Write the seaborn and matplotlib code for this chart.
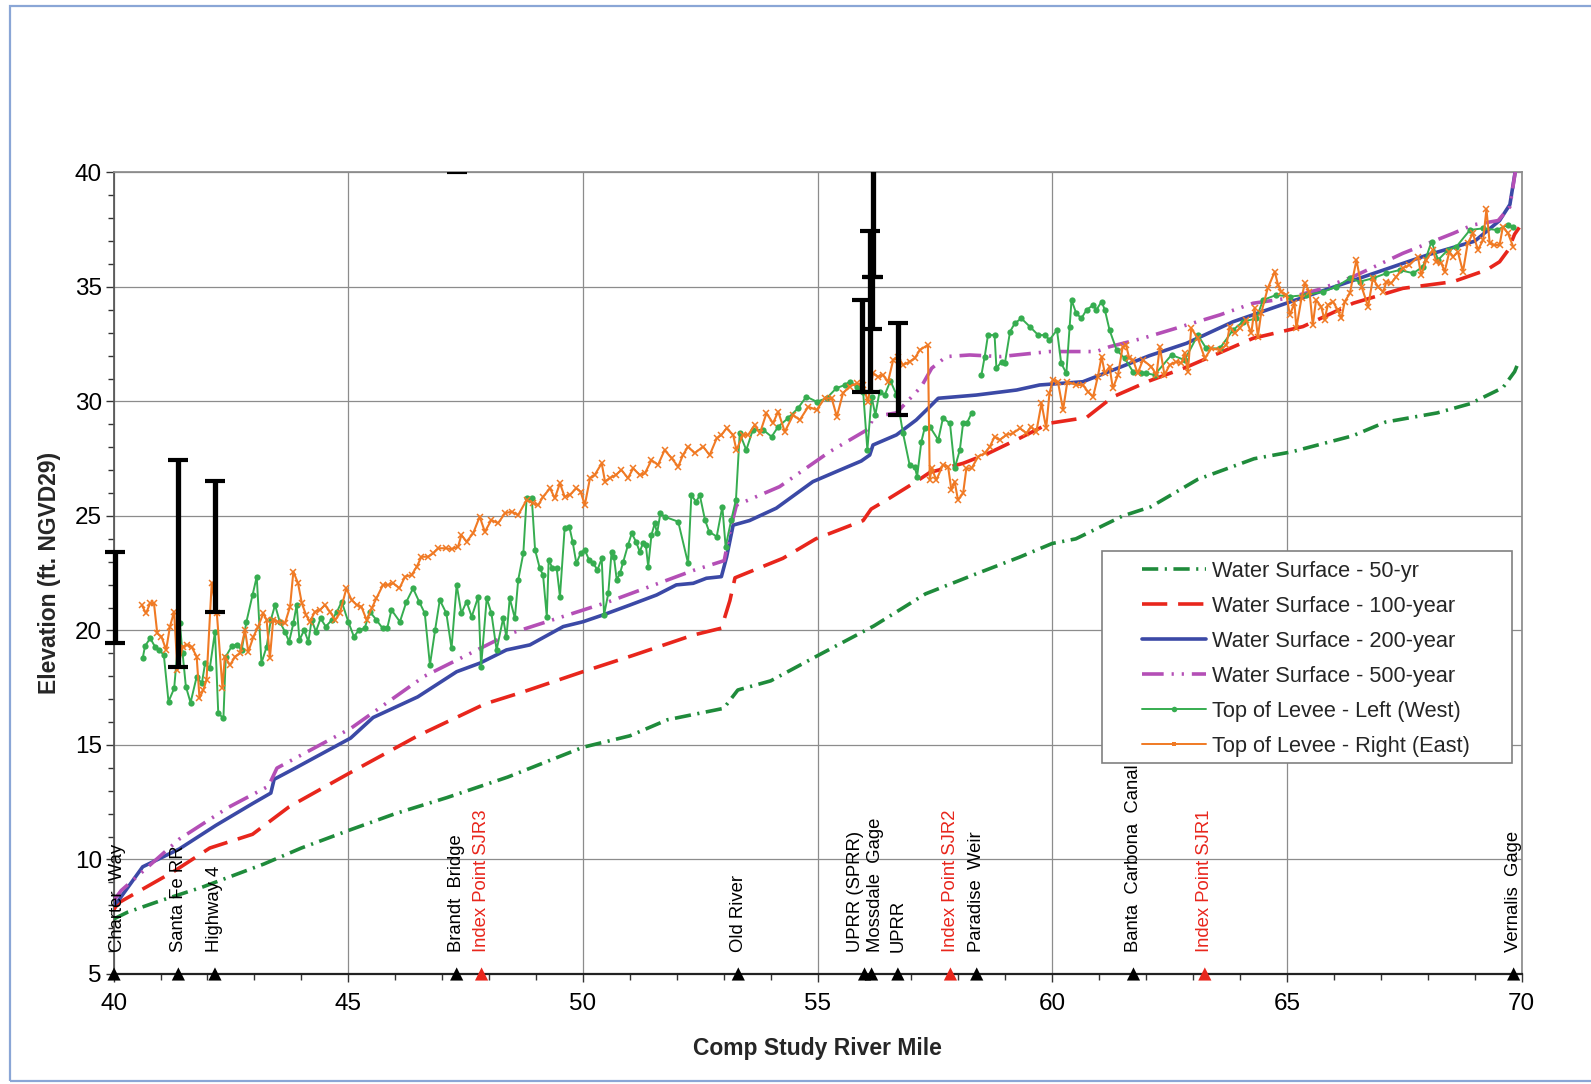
import numpy as np
import pandas as pd
import matplotlib
matplotlib.use('Agg')
import matplotlib.pyplot as plt
import seaborn as sns
from matplotlib.lines import Line2D
from matplotlib.patches import Rectangle
from matplotlib.ticker import MultipleLocator

sns.set_theme(style='white')
plt.rcParams['font.family'] = ['Liberation Sans', 'DejaVu Sans']

# --- water surface profiles ---
ws50_x = [40.0, 40.3, 41.0, 41.9, 43.2, 44.0, 45.05, 46.0, 47.1, 48.4, 50.0, 51.0, 51.8, 53.0, 53.3,
          54.0, 55.0, 56.2, 57.3, 58.35, 59.3, 60.0, 60.5, 61.5, 62.1, 63.1, 64.3, 65.1, 66.4, 67.1,
          68.2, 68.9, 69.6, 69.85, 69.95]
ws50 = [7.4, 7.7, 8.2, 8.8, 9.8, 10.5, 11.3, 12.0, 12.7, 13.6, 14.9, 15.4, 16.1, 16.6, 17.4,
        17.8, 18.9, 20.2, 21.6, 22.45, 23.2, 23.8, 24.0, 25.0, 25.4, 26.6, 27.5, 27.8, 28.5, 29.1,
        29.5, 29.9, 30.6, 31.3, 31.8]

ws100_x = [40.0, 40.1, 41.3, 42.05, 42.96, 43.74, 45.05, 46.48, 47.92, 48.7, 50.0, 51.05, 52.35,
           52.95, 53.13, 53.24, 54.26, 54.96, 55.97, 56.14, 56.47, 57.1, 57.39, 58.1, 58.6, 59.31,
           59.94, 60.73, 61.29, 62.07, 62.86, 64.28, 65.34, 66.41, 67.47, 68.54, 69.25, 69.53,
           69.71, 69.85, 69.95]
ws100 = [7.8, 8.1, 9.5, 10.5, 11.1, 12.3, 13.8, 15.4, 16.8, 17.3, 18.2, 18.9, 19.8,
         20.1, 21.3, 22.3, 23.15, 24.0, 24.8, 25.3, 25.7, 26.5, 26.9, 27.3, 27.7, 28.4,
         29.05, 29.3, 30.2, 30.9, 31.5, 32.76, 33.27, 34.29, 34.94, 35.23, 35.74, 36.1,
         36.6, 37.3, 37.6]

ws200_x = [40.0, 40.1, 40.62, 41.4, 42.18, 42.96, 43.35, 43.42, 43.88, 45.05, 45.53, 46.48, 47.31,
           47.8, 48.37, 48.87, 49.58, 50.0, 50.43, 51.0, 51.57, 51.99, 52.35, 52.63, 52.95, 53.06,
           53.2, 53.55, 54.12, 54.9, 55.47, 55.93, 56.11, 56.18, 56.68, 57.1, 57.39, 57.57, 58.38,
           59.24, 59.73, 60.65, 61.29, 62.07, 62.86, 63.85, 65.0, 66.0, 67.0, 68.0, 69.0, 69.53,
           69.75, 69.9]
ws200 = [8.0, 8.2, 9.68, 10.46, 11.49, 12.44, 12.9, 13.5, 14.0, 15.3, 16.2, 17.1, 18.2,
         18.57, 19.15, 19.37, 20.17, 20.38, 20.68, 21.11, 21.55, 21.99, 22.06, 22.28, 22.35, 23.2,
         24.6, 24.8, 25.34, 26.5, 27.0, 27.4, 27.66, 28.1, 28.54, 29.19, 29.77, 30.14, 30.28,
         30.5, 30.72, 30.86, 31.37, 32.0, 32.54, 33.48, 34.3, 35.0, 35.7, 36.4, 37.0, 37.9,
         38.6, 40.5]

ws500_x = [40.0, 40.16, 41.4, 42.44, 43.3, 43.48, 45.05, 46.62, 48.44, 50.53, 52.35, 53.01, 53.15,
           53.27, 54.19, 55.26, 56.11, 56.18, 56.68, 57.21, 57.43, 57.74, 58.24, 58.9, 59.94, 60.94,
           61.22, 61.93, 62.64, 63.57, 64.28, 64.99, 65.7, 66.41, 67.47, 68.54, 68.96, 69.5,
           69.75, 69.9]
ws500 = [8.2, 8.64, 10.89, 12.27, 13.2, 13.99, 15.72, 18.0, 19.86, 21.24, 22.62, 23.05, 24.5,
         25.47, 26.28, 27.81, 28.83, 29.34, 29.5, 30.65, 31.45, 31.96, 32.03, 31.96, 32.18, 32.18,
         32.39, 32.76, 33.2, 33.78, 34.29, 34.5, 34.9, 35.45, 36.47, 37.34, 37.71, 37.9,
         38.5, 40.5]

# --- top of levee, left (west); the line breaks after mile 58.3 ---
left_x = [40.62, 40.67, 40.78, 40.88, 40.97, 41.07, 41.17, 41.29, 41.41, 41.47, 41.54, 41.64, 41.77,
          41.88, 41.95, 42.05, 42.16, 42.23, 42.34, 42.39, 42.52, 42.62, 42.73, 42.83, 42.96, 43.05,
          43.15, 43.26, 43.35, 43.44, 43.54, 43.65, 43.74, 43.83, 43.90, 43.96, 44.06, 44.15, 44.22,
          44.31, 44.41, 44.52, 44.65, 44.76, 44.86, 45.00, 45.12, 45.23, 45.35, 45.46, 45.60, 45.73,
          45.83, 45.92, 46.10, 46.24, 46.38, 46.51, 46.63, 46.74, 46.85, 46.95, 47.09, 47.20, 47.31,
          47.41, 47.52, 47.63, 47.77, 47.83, 47.95, 48.05, 48.16, 48.30, 48.37, 48.44, 48.55, 48.62,
          48.73, 48.80, 48.91, 48.98, 49.08, 49.15, 49.23, 49.27, 49.35, 49.44, 49.51, 49.61, 49.71,
          49.78, 49.86, 49.95, 50.04, 50.13, 50.22, 50.31, 50.40, 50.45, 50.54, 50.61, 50.66, 50.72,
          50.79, 50.86, 50.96, 51.04, 51.13, 51.21, 51.28, 51.34, 51.39, 51.46, 51.53, 51.58, 51.65,
          51.74, 52.03, 52.24, 52.31, 52.41, 52.49, 52.60, 52.69, 52.85, 52.97, 53.04, 53.16, 53.26,
          53.34, 53.48, 53.62, 53.84, 54.02, 54.16, 54.37, 54.58, 54.76, 54.98, 55.19, 55.40, 55.58,
          55.68, 55.83, 55.97, 56.06, 56.15, 56.23, 56.32, 56.43, 56.55, 56.68, 56.82, 56.96, 57.07,
          57.12, 57.21, 57.28, 57.39, 57.57, 57.67, 57.82, 57.92, 58.03, 58.10, 58.18, 58.28,
          58.49, 58.56, 58.63, 58.77, 58.81, 58.92, 58.99, 59.10, 59.20, 59.34, 59.52, 59.70, 59.84,
          59.94, 60.10, 60.19, 60.30, 60.37, 60.41, 60.51, 60.62, 60.73, 60.87, 60.94, 61.05, 61.12,
          61.22, 61.37, 61.54, 61.72, 61.90, 62.00, 62.18, 62.54, 62.82, 63.10, 63.28, 63.57, 63.85,
          64.06, 64.35, 64.49, 64.77, 65.06, 65.41, 65.77, 66.05, 66.34, 66.55, 66.83, 67.12, 67.40,
          67.69, 67.90, 68.08, 68.22, 68.43, 68.61, 68.90, 69.18, 69.47, 69.71, 69.82]
left_elev = [18.79, 19.32, 19.66, 19.30, 19.15, 18.93, 16.89, 17.47, 20.31, 19.00, 17.55, 16.85, 17.98,
             17.69, 18.57, 18.35, 19.95, 16.38, 16.17, 18.86, 19.32, 19.37, 19.15, 20.38, 21.55, 22.35,
             18.57, 19.29, 20.46, 21.11, 20.38, 19.95, 19.51, 20.31, 21.11, 19.58, 20.02, 19.51, 20.46,
             19.95, 20.53, 20.17, 20.46, 20.82, 21.26, 20.38, 19.73, 20.02, 20.10, 20.82, 20.46, 20.10,
             20.10, 20.90, 20.38, 21.26, 21.84, 21.26, 20.75, 18.49, 20.02, 21.33, 20.75, 19.22, 21.99,
             20.75, 21.26, 20.60, 21.48, 18.42, 21.41, 20.75, 19.15, 20.53, 19.70, 21.41, 20.53, 22.20,
             23.37, 25.77, 25.77, 23.52, 22.72, 22.42, 20.60, 23.08, 22.72, 22.72, 21.48, 24.46, 24.53,
             23.88, 22.93, 23.37, 23.52, 23.08, 22.93, 22.64, 23.15, 20.68, 21.62, 23.44, 23.22, 22.21,
             22.50, 23.00, 23.73, 24.24, 23.88, 23.44, 23.81, 23.73, 22.79, 24.17, 24.68, 24.24, 25.12,
             24.97, 24.75, 22.93, 25.91, 25.62, 25.91, 24.83, 24.31, 24.10, 25.41, 23.66, 24.83, 25.70,
             28.61, 27.88, 28.76, 28.76, 28.46, 28.90, 29.27, 29.70, 30.21, 29.99, 30.14, 30.58, 30.72,
             30.86, 30.65, 30.43, 27.88, 30.21, 29.41, 30.43, 30.28, 30.90, 30.30, 28.61, 27.23, 27.15,
             26.72, 28.24, 28.83, 28.90, 28.32, 29.27, 29.05, 27.08, 27.88, 29.05, 29.05, 29.49,
             31.16, 31.96, 32.90, 32.90, 31.45, 31.74, 31.67, 33.05, 33.41, 33.63, 33.27, 32.90, 32.90,
             32.69, 33.12, 31.67, 31.23, 33.27, 34.43, 33.85, 33.63, 34.00, 34.21, 34.00, 34.36, 34.00,
             33.12, 32.25, 31.89, 31.30, 31.23, 31.23, 31.16, 32.03, 31.81, 32.90, 32.32, 32.32, 33.12,
             33.48, 33.63, 34.43, 34.65, 34.58, 34.65, 34.79, 35.01, 35.38, 35.23, 35.38, 35.60, 35.74,
             35.60, 35.89, 36.98, 36.18, 36.62, 36.76, 37.49, 37.56, 37.49, 37.71, 37.63]
left_gap_after = 58.3

# --- top of levee, right (east) ---
right_x = [40.60, 40.69, 40.78, 40.86, 40.93, 41.02, 41.12, 41.20, 41.29, 41.36, 41.47, 41.57, 41.66,
           41.77, 41.83, 41.91, 41.98, 42.09, 42.20, 42.32, 42.37, 42.48, 42.59, 42.69, 42.80, 42.87,
           42.98, 43.08, 43.19, 43.26, 43.33, 43.40, 43.51, 43.65, 43.76, 43.83, 43.93, 44.01, 44.10,
           44.18, 44.29, 44.40, 44.50, 44.61, 44.72, 44.82, 44.96, 45.07, 45.18, 45.28, 45.39, 45.50,
           45.60, 45.74, 45.85, 45.96, 46.09, 46.21, 46.35, 46.46, 46.56, 46.70, 46.81, 46.92, 47.09,
           47.20, 47.34, 47.41, 47.52, 47.66, 47.80, 47.91, 48.05, 48.19, 48.34, 48.48, 48.62, 48.80,
           48.94, 49.05, 49.15, 49.30, 49.40, 49.51, 49.61, 49.72, 49.86, 49.95, 50.04, 50.15, 50.25,
           50.40, 50.47, 50.57, 50.70, 50.82, 50.96, 51.07, 51.21, 51.32, 51.46, 51.60, 51.74, 51.89,
           52.03, 52.13, 52.24, 52.38, 52.56, 52.70, 52.85, 52.95, 53.06, 53.20, 53.27, 53.41, 53.52,
           53.66, 53.77, 53.91, 54.05, 54.16, 54.30, 54.48, 54.62, 54.80, 54.98, 55.15, 55.30, 55.41,
           55.54, 55.68, 55.83, 55.97, 56.07, 56.18, 56.29, 56.39, 56.50, 56.61, 56.71, 56.82, 56.96,
           57.07, 57.18, 57.35, 57.39, 57.43, 57.53, 57.67, 57.78, 57.85, 57.92, 57.99, 58.10, 58.17,
           58.28, 58.42, 58.56, 58.67, 58.77, 58.88, 59.02, 59.16, 59.31, 59.45, 59.55, 59.66, 59.77,
           59.87, 59.94, 60.01, 60.12, 60.23, 60.32, 60.51, 60.65, 60.76, 60.87, 60.97, 61.05, 61.12,
           61.22, 61.29, 61.40, 61.50, 61.57, 61.64, 61.72, 61.82, 61.93, 62.11, 62.22, 62.29, 62.39,
           62.50, 62.64, 62.75, 62.82, 62.89, 62.96, 63.10, 63.25, 63.39, 63.57, 63.71, 63.78, 63.89,
           63.99, 64.13, 64.24, 64.31, 64.38, 64.45, 64.59, 64.74, 64.81, 64.88, 64.99, 65.06, 65.16,
           65.20, 65.31, 65.38, 65.48, 65.55, 65.62, 65.73, 65.80, 65.87, 65.98, 66.08, 66.16, 66.23,
           66.34, 66.48, 66.59, 66.73, 66.83, 66.94, 67.05, 67.12, 67.22, 67.33, 67.47, 67.61, 67.79,
           67.86, 67.97, 68.11, 68.18, 68.29, 68.36, 68.46, 68.54, 68.64, 68.75, 68.85, 68.96, 69.07,
           69.18, 69.25, 69.32, 69.42, 69.53, 69.60, 69.71, 69.82]
right_elev = [21.11, 20.75, 21.19, 21.19, 19.88, 19.73, 19.15, 20.17, 20.82, 18.28, 19.29, 19.37, 19.29,
              18.86, 17.04, 17.40, 17.84, 22.06, 20.75, 17.48, 18.86, 18.49, 18.86, 19.00, 20.02, 19.07,
              19.73, 20.17, 20.75, 20.46, 18.79, 20.46, 20.38, 20.31, 21.04, 22.57, 22.06, 21.19, 20.68,
              20.38, 20.82, 20.90, 21.11, 20.82, 20.46, 20.75, 21.84, 21.33, 21.11, 21.04, 20.46, 20.97,
              21.41, 21.99, 21.99, 22.06, 21.84, 22.35, 22.42, 22.79, 23.22, 23.22, 23.37, 23.59, 23.59,
              23.55, 23.66, 24.17, 23.88, 24.24, 24.97, 24.31, 24.83, 24.68, 25.12, 25.19, 25.04, 25.70,
              25.55, 25.48, 25.84, 26.21, 25.77, 26.43, 25.84, 25.92, 26.21, 26.06, 25.48, 26.65, 26.79,
              27.30, 26.50, 26.65, 26.79, 27.01, 26.65, 27.08, 26.79, 26.86, 27.44, 27.23, 27.88, 27.52,
              27.15, 27.66, 28.03, 27.74, 28.03, 27.66, 28.39, 28.54, 28.83, 28.54, 27.88, 28.54, 28.54,
              28.97, 28.61, 29.49, 29.05, 29.56, 28.68, 29.41, 29.19, 29.77, 29.63, 30.14, 30.14, 29.34,
              30.36, 30.65, 30.79, 30.72, 29.99, 31.23, 31.08, 31.16, 30.86, 31.81, 31.96, 31.59, 31.74,
              31.89, 32.25, 32.47, 26.57, 27.08, 26.57, 27.23, 27.15, 26.14, 26.50, 25.70, 25.99, 27.08,
              27.08, 27.59, 27.74, 28.03, 28.46, 28.32, 28.54, 28.61, 28.83, 28.61, 28.90, 28.68, 29.92,
              28.83, 30.36, 30.94, 30.86, 29.63, 30.86, 30.72, 30.72, 30.43, 30.21, 31.08, 31.96, 31.23,
              31.52, 30.58, 31.16, 32.39, 32.47, 31.89, 31.81, 31.23, 31.81, 31.52, 31.16, 32.39, 31.16,
              31.59, 31.74, 31.67, 32.10, 31.30, 33.20, 32.76, 31.89, 32.32, 32.25, 32.47, 33.27, 32.98,
              33.20, 33.56, 32.98, 34.07, 32.83, 33.85, 34.94, 35.67, 35.09, 34.79, 34.65, 33.78, 34.29,
              33.20, 34.51, 35.16, 34.79, 33.34, 34.43, 34.14, 33.56, 34.21, 34.36, 34.00, 33.63, 34.36,
              34.72, 36.18, 35.01, 34.14, 35.38, 35.01, 34.79, 35.23, 35.16, 35.45, 35.82, 35.96, 36.32,
              35.52, 36.18, 36.62, 36.10, 36.03, 35.67, 36.54, 36.32, 36.54, 35.67, 36.90, 37.34, 36.62,
              37.05, 38.40, 36.90, 36.83, 36.83, 37.63, 37.34, 36.76]

# --- bridge / structure ranges (black bars) ---
bar_x = [40.03, 41.37, 42.16, 47.31, 55.95, 56.12, 56.16, 56.19, 56.71]
bar_lo = [19.45, 18.42, 20.82, 40.0, 30.43, 30.43, 33.17, 35.44, 29.41]
bar_hi = [23.44, 27.44, 26.54, 41.0, 34.43, 37.45, 35.44, 41.5, 33.43]

# --- landmarks along the river ---
site_names = ['Charter  Way', 'Santa Fe RR', 'Highway 4', 'Brandt  Bridge', 'Index Point SJR3',
              'Old River', 'UPRR (SPRR)', 'Mossdale  Gage', 'UPRR', 'Index Point SJR2',
              'Paradise  Weir', 'Banta  Carbona  Canal', 'Index Point SJR1', 'Vernalis  Gage']
site_mile = [40.01, 41.38, 42.16, 47.31, 47.84, 53.31, 56.00, 56.15, 56.71, 57.83, 58.39, 61.73,
             63.25, 69.83]
site_label_mile = [40.09, 41.38, 42.16, 47.31, 47.84, 53.31, 55.81, 56.23, 56.71, 57.83, 58.39,
                   61.73, 63.25, 69.83]
site_is_index = [False, False, False, False, True, False, False, False, False, True, False, False,
                 True, False]

RED = '#e8261c'
C50, C100, C200, C500 = '#1f8b3b', RED, '#3b49a6', '#b44fb6'
CLEFT, CRIGHT = '#36ad50', '#f07a24'
DASH50 = (0, (4.5, 1.8, 0.6, 1.8))
DASH100 = (0, (7, 3))
DASH500 = (0, (6, 2.2, 0.6, 2.2, 0.6, 2.2))

fig = plt.figure(figsize=(15.91, 10.84), dpi=100)
ax = fig.add_axes([0.0714, 0.1015, 0.885, 0.7394])

lw = 2.6
sns.lineplot(x=ws50_x, y=ws50, ax=ax, color=C50, linewidth=lw, estimator=None, sort=False,
             linestyle=DASH50, zorder=3)
sns.lineplot(x=ws100_x, y=ws100, ax=ax, color=C100, linewidth=lw, estimator=None, sort=False,
             linestyle=DASH100, zorder=3)
sns.lineplot(x=ws200_x, y=ws200, ax=ax, color=C200, linewidth=lw, estimator=None, sort=False,
             zorder=3)
sns.lineplot(x=ws500_x, y=ws500, ax=ax, color=C500, linewidth=lw, estimator=None, sort=False,
             linestyle=DASH500, zorder=3)

left_df = pd.DataFrame({'mile': left_x, 'elev': left_elev})
left_df['seg'] = (left_df['mile'] > left_gap_after).astype(int)
sns.lineplot(data=left_df, x='mile', y='elev', units='seg', estimator=None, sort=False, ax=ax,
             color=CLEFT, linewidth=1.4, marker='o', markersize=4.5, markeredgewidth=0,
             markeredgecolor=CLEFT, zorder=4)
sns.lineplot(x=right_x, y=right_elev, ax=ax, estimator=None, sort=False, color=CRIGHT,
             linewidth=1.5, marker='x', markersize=4, markeredgewidth=1.1,
             markeredgecolor=CRIGHT, zorder=4)

# black structure bars: the low ones may poke past the left edge, the tall ones are cut at 40
bx = np.array(bar_x)
lo = np.array(bar_lo)
hi = np.array(bar_hi)
low = hi <= 40
for sel, clip in [(low, False), (~low, True)]:
    ax.errorbar(bx[sel], (lo[sel] + hi[sel]) / 2, yerr=(hi[sel] - lo[sel]) / 2, fmt='none',
                ecolor='black', elinewidth=3.8, capsize=7, capthick=3, zorder=5, clip_on=clip)

ax.set_xlim(40, 70)
ax.set_ylim(5, 40)

# landmark triangles + labels
tri_colors = [RED if f else 'black' for f in site_is_index]
ax.scatter(site_mile, [5] * len(site_mile), marker='^', s=90, c=tri_colors, linewidths=0,
           clip_on=False, zorder=7)
for name, xm, red in zip(site_names, site_label_mile, site_is_index):
    ax.text(xm, 5.95, name, rotation=90, ha='center', va='bottom', fontsize=13.3,
            color=RED if red else 'black', zorder=6)

ax.xaxis.set_major_locator(MultipleLocator(5))
ax.xaxis.set_minor_locator(MultipleLocator(1))
ax.yaxis.set_major_locator(MultipleLocator(5))
ax.yaxis.set_minor_locator(MultipleLocator(1))
ax.grid(which='major', color='#8c8c8c', linewidth=0.9)
ax.set_axisbelow(True)
ax.tick_params(which='major', direction='out', length=6, width=1, colors='#333333',
               labelsize=17.5, labelcolor='black', bottom=True, left=True)
ax.tick_params(which='minor', direction='out', length=4, width=1, colors='#333333',
               bottom=True, left=True)
ax.tick_params(axis='x', which='major', pad=7.5)
ax.tick_params(axis='y', which='major', pad=2.5)

for side in ['top', 'right']:
    ax.spines[side].set_color('#8c8c8c')
ax.spines['left'].set_color('#555555')
ax.spines['bottom'].set_color('#222222')
ax.spines['bottom'].set_linewidth(1.6)

ax.set_xlabel('Comp Study River Mile', fontsize=16.5, fontweight='bold', labelpad=16)
ax.set_ylabel('Elevation (ft. NGVD29)', fontsize=16.5, fontweight='bold', labelpad=10)

# legend with its own box
ax.add_patch(Rectangle((0.702, 0.263), 0.291, 0.265, transform=ax.transAxes, facecolor='white',
                       edgecolor='#808080', linewidth=1.2, zorder=8))
handles = [
    Line2D([], [], color=C50, lw=lw, linestyle=DASH50),
    Line2D([], [], color=C100, lw=lw, linestyle=DASH100),
    Line2D([], [], color=C200, lw=lw),
    Line2D([], [], color=C500, lw=lw, linestyle=DASH500),
    Line2D([], [], color=CLEFT, lw=1.4, marker='o', markersize=4, markeredgewidth=0),
    Line2D([], [], color=CRIGHT, lw=1.4, marker='s', markersize=3.5, markeredgewidth=0),
]
labels = ['Water Surface - 50-yr', 'Water Surface - 100-year', 'Water Surface - 200-year',
          'Water Surface - 500-year', 'Top of Levee - Left (West)', 'Top of Levee - Right (East)']
leg = ax.legend(handles, labels, loc='center', bbox_to_anchor=(0.847, 0.393), frameon=False,
                fontsize=15.7, handlelength=2.9, handletextpad=0.3, labelspacing=0.64,
                borderpad=0)
leg.set_zorder(9)

# light blue frame around the whole picture
fig.add_artist(Rectangle((0.0063, 0.003), 1.2, 0.9915, transform=fig.transFigure,
                         facecolor='none', edgecolor='#8aa6d6', linewidth=1.6))

fig.savefig('out.png', dpi=100)
